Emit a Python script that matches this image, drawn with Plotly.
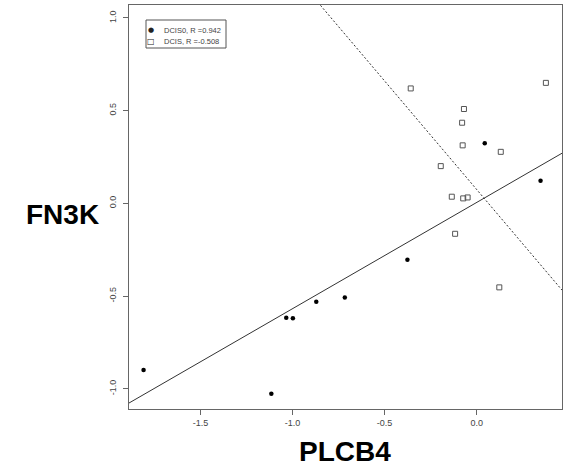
import plotly.graph_objects as go

# DCIS0 (filled circles)
dcis0_x = [-1.809, -1.115, -1.034, -0.998, -0.871, -0.716, -0.376, 0.044, 0.347]
dcis0_y = [-0.898, -1.027, -0.617, -0.620, -0.531, -0.507, -0.304, 0.325, 0.122]
# DCIS (open squares)
dcis_x = [-0.358, 0.376, -0.069, -0.079, -0.076, 0.131, -0.195, -0.135, -0.073, -0.049, -0.117, 0.123]
dcis_y = [0.620, 0.650, 0.509, 0.435, 0.313, 0.278, 0.201, 0.036, 0.027, 0.032, -0.164, -0.453]

series_names = ["DCIS0, R =0.942", "DCIS, R =-0.508"]
legend_symbols = ["●", "□"]
line_intercepts = [0.005, 0.075]
line_slopes = [0.573, -1.171]

x_range = [-1.888, 0.4635]
y_range = [-1.109, 1.07]
x_ticks = [-1.5, -1.0, -0.5, 0.0]
y_ticks = [-1.0, -0.5, 0.0, 0.5, 1.0]

W, H = 568, 468
L, R, T, B = 129, 6, 5, 59
PW, PH = W - L - R, H - T - B


def px(x):
    return (x - L) / PW


def py(y):
    return (H - B - y) / PH


fig = go.Figure()

# regression lines (abline style)
dashes = ["solid", "2px,2px"]
for a, b, d in zip(line_intercepts, line_slopes, dashes):
    fig.add_trace(go.Scatter(
        x=x_range, y=[a + b * x for x in x_range], mode="lines",
        line=dict(color="#333333", width=1, dash=d), showlegend=False,
        hoverinfo="skip"))

fig.add_trace(go.Scatter(
    x=dcis0_x, y=dcis0_y, mode="markers", name=series_names[0], showlegend=False,
    marker=dict(symbol="circle", size=4.5, color="black")))
fig.add_trace(go.Scatter(
    x=dcis_x, y=dcis_y, mode="markers", name=series_names[1], showlegend=False,
    marker=dict(symbol="square-open", size=5, color="#555555",
                line=dict(width=1, color="#555555"))))

axis_common = dict(showline=True, linecolor="#666666", linewidth=1, mirror=True,
                   ticks="outside", ticklen=5, tickcolor="#666666",
                   showgrid=False, zeroline=False, automargin=False,
                   tickfont=dict(family="Liberation Sans, Arial", size=9, color="#444444"))

fig.update_xaxes(range=x_range, tickvals=x_ticks,
                 ticktext=[f"{v:.1f}" for v in x_ticks], **axis_common)
fig.update_yaxes(range=y_range, tickvals=y_ticks,
                 ticktext=[f"{v:.1f}" for v in y_ticks], tickangle=-90,
                 ticklabelstandoff=3, **axis_common)

# axis titles
fig.add_annotation(text="<b>FN3K</b>", xref="paper", yref="paper",
                   x=px(62), y=py(214), showarrow=False, xanchor="center", yanchor="middle",
                   font=dict(family="Liberation Sans, Arial", size=28, color="black"))
fig.add_annotation(text="<b>PLCB4</b>", xref="paper", yref="paper",
                   x=px(345), y=py(451), showarrow=False, xanchor="center", yanchor="middle",
                   font=dict(family="Liberation Sans, Arial", size=28, color="black"))

# legend box (R-style)
fig.add_shape(type="rect", xref="paper", yref="paper",
              x0=px(146), x1=px(226), y0=py(48), y1=py(20),
              line=dict(color="#555555", width=1), fillcolor="white")
row_y = [30.5, 41.5]
sym_sizes = [7, 8]
for name, sym, ry, ss in zip(series_names, legend_symbols, row_y, sym_sizes):
    fig.add_annotation(text=sym, xref="paper", yref="paper", x=px(151), y=py(ry),
                       showarrow=False, xanchor="center", yanchor="middle",
                       font=dict(family="DejaVu Sans", size=ss, color="#222222"))
    fig.add_annotation(text=name, xref="paper", yref="paper", x=px(162), y=py(ry),
                       showarrow=False, xanchor="left", yanchor="middle",
                       font=dict(family="Liberation Sans, Arial", size=7.5, color="#444444"))

fig.update_layout(
    width=W, height=H,
    margin=dict(l=L, r=R, t=T, b=B),
    paper_bgcolor="white", plot_bgcolor="white",
    showlegend=False,
)

fig.write_html("out.html", config={"displayModeBar": False},
               post_script="document.body.style.margin='0';document.body.style.padding='0';")
